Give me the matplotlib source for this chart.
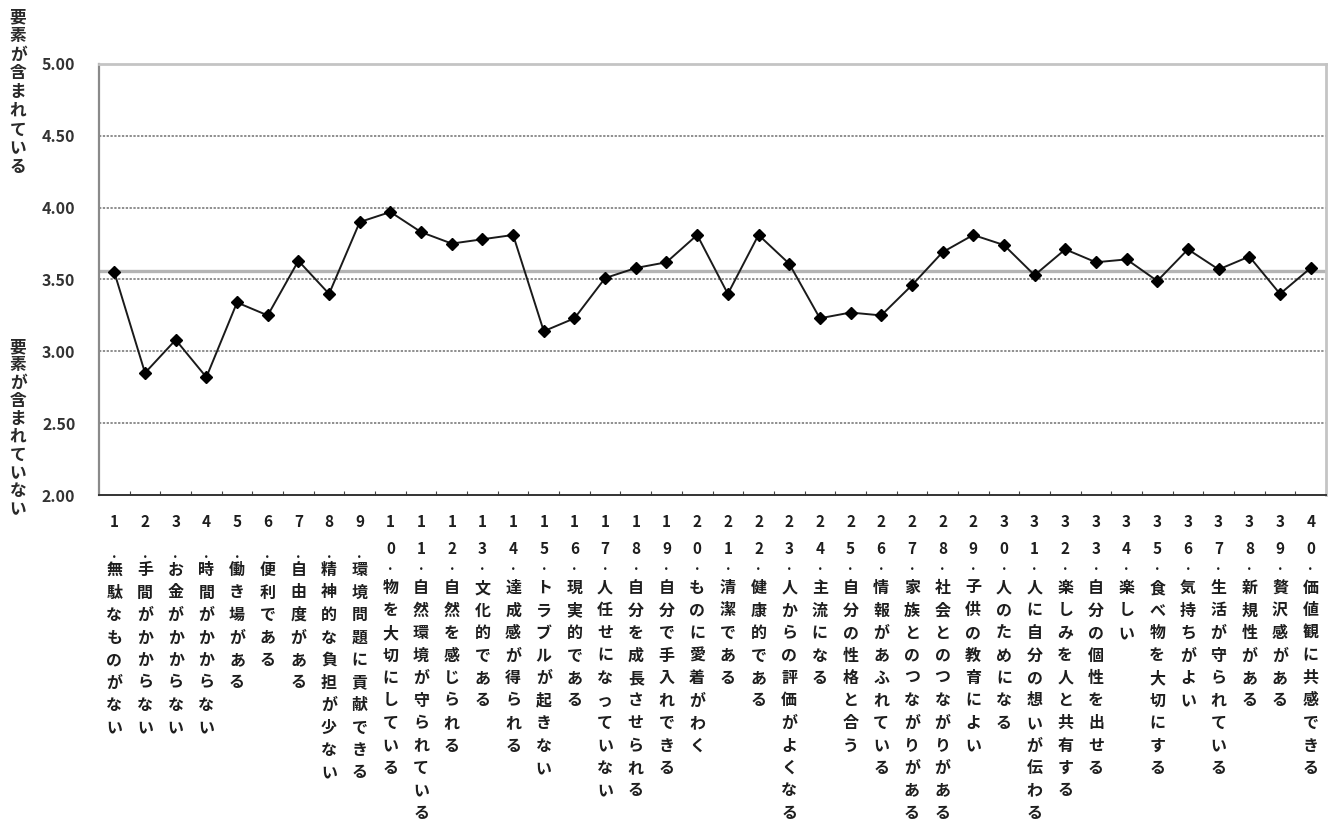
import numpy as np
import matplotlib
matplotlib.use("Agg")
import matplotlib.pyplot as plt
from matplotlib.ticker import FixedLocator

plt.rcParams['font.family'] = ['Noto Sans CJK JP', 'DejaVu Sans']

# 評価項目 (1-40) と平均得点
ITEMS = [
    '無駄なものがない', '手間がかからない', 'お金がかからない', '時間がかからない',
    '働き場がある', '便利である', '自由度がある', '精神的な負担が少ない',
    '環境問題に貢献できる', '物を大切にしている', '自然環境が守られている',
    '自然を感じられる', '文化的である', '達成感が得られる', 'トラブルが起きない',
    '現実的である', '人任せになっていない', '自分を成長させられる',
    '自分で手入れできる', 'ものに愛着がわく', '清潔である', '健康的である',
    '人からの評価がよくなる', '主流になる', '自分の性格と合う', '情報があふれている',
    '家族とのつながりがある', '社会とのつながりがある', '子供の教育によい',
    '人のためになる', '人に自分の想いが伝わる', '楽しみを人と共有する',
    '自分の個性を出せる', '楽しい', '食べ物を大切にする', '気持ちがよい',
    '生活が守られている', '新規性がある', '贅沢感がある', '価値観に共感できる',
]
SCORES = [
    3.55, 2.85, 3.08, 2.82, 3.34, 3.25, 3.63, 3.40, 3.90, 3.97,
    3.83, 3.75, 3.78, 3.81, 3.14, 3.23, 3.51, 3.58, 3.62, 3.81,
    3.40, 3.81, 3.61, 3.23, 3.27, 3.25, 3.46, 3.69, 3.81, 3.74,
    3.53, 3.71, 3.62, 3.64, 3.49, 3.71, 3.57, 3.66, 3.40, 3.58,
]
REF_LINE = 3.56
Y_TICKS = [2.00, 2.50, 3.00, 3.50, 4.00, 4.50, 5.00]
Y_LABEL_TOP = '要素が含まれている'
Y_LABEL_BOTTOM = '要素が含まれていない'

W, H = 1332, 825
fig = plt.figure(figsize=(W / 100, H / 100), dpi=100)
ax = fig.add_axes([99 / W, (H - 495) / H, 1227 / W, 431 / H])

x = np.arange(1, len(SCORES) + 1)

# grid + reference line
for v in Y_TICKS[1:-1]:
    ax.axhline(v, color='#707070', linestyle=(0, (1.5, 1.0)), linewidth=1.1, zorder=1)
ax.axhline(REF_LINE, color='#b4b4b4', linewidth=2.4, zorder=2)

ax.plot(x, SCORES, color='#1a1a1a', linewidth=1.4, marker='D',
        markersize=6.5, markerfacecolor='black', markeredgecolor='black', zorder=3)

ax.set_xlim(0.5, len(SCORES) + 0.5)
ax.set_ylim(2.0, 5.0)
ax.set_yticks(Y_TICKS)
ax.set_yticklabels([f'{v:.2f}' for v in Y_TICKS], fontsize=11.5,
                   fontweight='bold', color='#333333')
ax.tick_params(axis='y', length=0, pad=17)

ax.set_xticks([])
ax.xaxis.set_minor_locator(FixedLocator(np.arange(1.5, len(SCORES), 1.0)))
ax.tick_params(axis='x', which='minor', direction='in', length=3,
               color='#444444', width=0.8)

ax.spines['left'].set_color('#8a8a8a')
ax.spines['left'].set_linewidth(1.6)
ax.spines['bottom'].set_color('#333333')
ax.spines['bottom'].set_linewidth(1.4)
for s in ('top', 'right'):
    ax.spines[s].set_color('#c4c4c4')
    ax.spines[s].set_linewidth(2.0)


def put(ch, xi, ypix, size=11.5):
    # ypix: pixel row in the figure, measured from the top
    ax.annotate(ch, xy=(xi, 0), xycoords=('data', 'axes fraction'),
                xytext=(0, -(ypix - 495) * 0.72), textcoords='offset points',
                ha='center', va='center', fontsize=size, fontweight='bold',
                color='#1e1e1e', annotation_clip=False)


# vertical category labels: number, dot, then the text one character per row
step = 22.5
for i, label in enumerate(ITEMS):
    xi = i + 1
    digits = str(xi)
    put(digits[0], xi, 522, 11)
    if len(digits) == 2:
        put(digits[1], xi, 549, 11)
        put('.', xi, 566, 10)
        y0 = 588
    else:
        put('.', xi, 554, 10)
        y0 = 570
    for k, ch in enumerate(label):
        put(ch, xi, y0 + k * step)

# vertical y-axis captions
for k, ch in enumerate(Y_LABEL_TOP):
    fig.text(18 / W, 1 - (17 + k * 18.8) / H, ch, ha='center', va='center',
             fontsize=12, fontweight='bold', color='#2a2a2a')
for k, ch in enumerate(Y_LABEL_BOTTOM):
    fig.text(18 / W, 1 - (347 + k * 18.0) / H, ch, ha='center', va='center',
             fontsize=12, fontweight='bold', color='#2a2a2a')

fig.savefig('out.png', dpi=100)
